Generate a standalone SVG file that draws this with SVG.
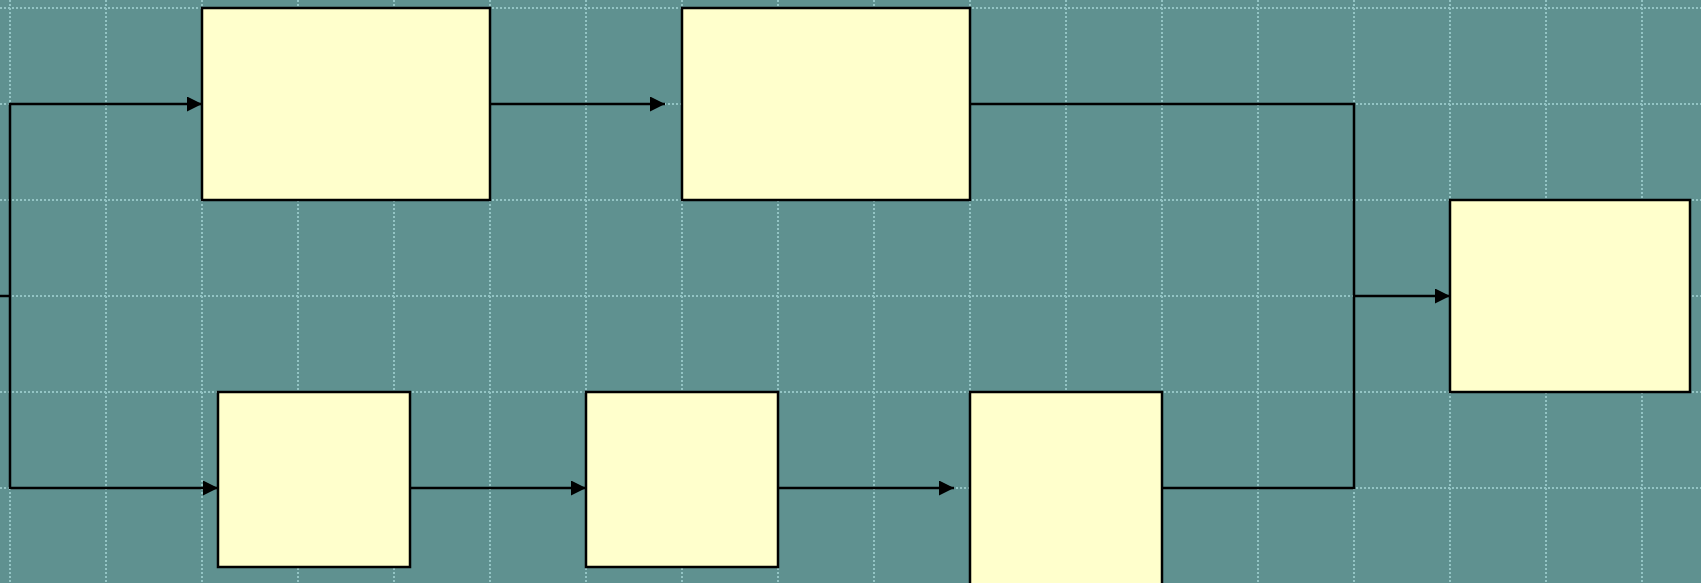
<svg xmlns="http://www.w3.org/2000/svg" width="1701" height="583" viewBox="0 0 1701 583">
<style>
.grid line{stroke:#93c4c4;stroke-width:2;stroke-dasharray:2 2}
.node rect{fill:#ffffcc;stroke:#000;stroke-width:2.5}
.conn line{stroke:#000;stroke-width:2.5;fill:none}
.arr{marker-end:url(#ah)}
</style>
<defs>
<marker id="ah" markerUnits="userSpaceOnUse" markerWidth="16" markerHeight="16" refX="15" refY="7.5" orient="auto">
<path d="M0,0 L15,7.5 L0,15 z" fill="#000"/>
</marker>
</defs>
<rect width="1701" height="583" fill="#5f9190"/>
<g class="grid">
<line x1="10" y1="0" x2="10" y2="583"/><line x1="106" y1="0" x2="106" y2="583"/><line x1="202" y1="0" x2="202" y2="583"/><line x1="298" y1="0" x2="298" y2="583"/><line x1="394" y1="0" x2="394" y2="583"/><line x1="490" y1="0" x2="490" y2="583"/><line x1="586" y1="0" x2="586" y2="583"/><line x1="682" y1="0" x2="682" y2="583"/><line x1="778" y1="0" x2="778" y2="583"/><line x1="874" y1="0" x2="874" y2="583"/><line x1="970" y1="0" x2="970" y2="583"/><line x1="1066" y1="0" x2="1066" y2="583"/><line x1="1162" y1="0" x2="1162" y2="583"/><line x1="1258" y1="0" x2="1258" y2="583"/><line x1="1354" y1="0" x2="1354" y2="583"/><line x1="1450" y1="0" x2="1450" y2="583"/><line x1="1546" y1="0" x2="1546" y2="583"/><line x1="1642" y1="0" x2="1642" y2="583"/>
<line x1="0" y1="8" x2="1701" y2="8"/><line x1="0" y1="104" x2="1701" y2="104"/><line x1="0" y1="200" x2="1701" y2="200"/><line x1="0" y1="296" x2="1701" y2="296"/><line x1="0" y1="392" x2="1701" y2="392"/><line x1="0" y1="488" x2="1701" y2="488"/>
</g>
<g id="connectors" class="conn">
<line x1="0" y1="296" x2="10" y2="296"/>
<line x1="10" y1="103" x2="10" y2="489"/>
<line class="arr" x1="10" y1="104" x2="202" y2="104"/>
<line class="arr" x1="10" y1="488" x2="218" y2="488"/>
<line class="arr" x1="490" y1="104" x2="665" y2="104"/>
<line x1="970" y1="104" x2="1355" y2="104"/>
<line x1="1354" y1="103" x2="1354" y2="489"/>
<line class="arr" x1="1354" y1="296" x2="1450" y2="296"/>
<line class="arr" x1="410" y1="488" x2="586" y2="488"/>
<line class="arr" x1="778" y1="488" x2="954" y2="488"/>
<line x1="1162" y1="488" x2="1355" y2="488"/>
</g>
<g id="node1" class="node"><rect x="202" y="8" width="288" height="192"/></g>
<g id="node2" class="node"><rect x="682" y="8" width="288" height="192"/></g>
<g id="node3" class="node"><rect x="1450" y="200" width="240" height="192"/></g>
<g id="node4" class="node"><rect x="218" y="392" width="192" height="175"/></g>
<g id="node5" class="node"><rect x="586" y="392" width="192" height="175"/></g>
<g id="node6" class="node"><rect x="970" y="392" width="192" height="200"/></g>
</svg>
